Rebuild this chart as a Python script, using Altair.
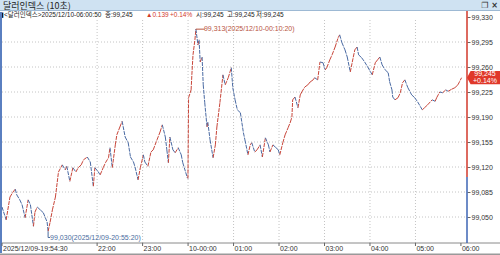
import altair as alt
import pandas as pd

# ---------------- data ----------------
clock = [
    "19:54:30", "20:00", "20:05", "20:09", "20:12", "20:14", "20:18", "20:21", "20:25", "20:29",
    "20:32", "20:36", "20:38", "20:41", "20:45", "20:49", "20:54", "20:55:20", "20:58", "21:01",
    "21:05", "21:09", "21:14", "21:18", "21:20", "21:24", "21:28", "21:32", "21:35", "21:39",
    "21:42", "21:47", "21:51", "21:55", "21:57", "22:01", "22:04", "22:08", "22:11", "22:15",
    "22:17", "22:20", "22:24", "22:26", "22:30", "22:33", "22:37", "22:41", "22:44", "22:48",
    "22:50", "22:54", "22:57", "23:01", "23:03", "23:07", "23:11", "23:14", "23:19", "23:23",
    "23:26", "23:30", "23:32", "23:34", "23:36", "23:40", "23:43", "23:47", "23:51", "23:53",
    "23:59", "23:59:50", "00:00:40", "00:04", "00:05", "00:06:30", "00:09", "00:10:20", "00:13", "00:14:30",
    "00:16", "00:18:30", "00:20", "00:22", "00:25", "00:26", "00:29", "00:33", "00:36", "00:38",
    "00:42", "00:46", "00:49", "00:53", "00:57", "00:59", "01:02", "01:05", "01:09", "01:13",
    "01:15", "01:19", "01:22", "01:24", "01:28", "01:31", "01:35", "01:38", "01:42", "01:46",
    "01:48", "01:52", "01:55", "01:59", "02:01", "02:05", "02:08", "02:12", "02:15", "02:17",
    "02:18", "02:21", "02:25", "02:28", "02:30", "02:34", "02:38", "02:41", "02:45", "02:47",
    "02:51", "02:54", "02:58", "03:01", "03:03", "03:07", "03:10", "03:14", "03:18", "03:20",
    "03:23", "03:27", "03:30", "03:34", "03:38", "03:40", "03:43", "03:45", "03:49", "03:53",
    "03:57", "04:03", "04:07", "04:10", "04:13", "04:16", "04:20", "04:24", "04:26", "04:29",
    "04:30", "04:33", "04:37", "04:40", "04:43", "04:46", "04:50", "04:55", "04:59", "05:03",
    "05:09", "05:12", "05:16", "05:22", "05:26", "05:28", "05:32", "05:36", "05:40", "05:43",
    "05:48", "05:52", "05:56", "06:00:50",
]
price = [
    99.064, 99.046, 99.078, 99.085, 99.089, 99.081, 99.074, 99.067, 99.049, 99.074,
    99.067, 99.037, 99.057, 99.064, 99.060, 99.056, 99.043, 99.030, 99.043, 99.060,
    99.078, 99.113, 99.123, 99.116, 99.121, 99.100, 99.119, 99.113, 99.119, 99.123,
    99.130, 99.134, 99.127, 99.093, 99.119, 99.114, 99.109, 99.119, 99.126, 99.133,
    99.147, 99.119, 99.151, 99.165, 99.176, 99.184, 99.162, 99.154, 99.134, 99.127,
    99.120, 99.102, 99.119, 99.137, 99.127, 99.121, 99.141, 99.144, 99.158, 99.169,
    99.179, 99.162, 99.144, 99.126, 99.162, 99.144, 99.140, 99.147, 99.137, 99.126,
    99.105, 99.104, 99.217, 99.228, 99.249, 99.277, 99.298, 99.313, 99.291, 99.298,
    99.267, 99.274, 99.235, 99.210, 99.176, 99.183, 99.158, 99.133, 99.151, 99.176,
    99.210, 99.249, 99.235, 99.245, 99.259, 99.231, 99.214, 99.200, 99.196, 99.168,
    99.158, 99.137, 99.151, 99.154, 99.141, 99.144, 99.151, 99.134, 99.161, 99.151,
    99.141, 99.151, 99.148, 99.144, 99.137, 99.154, 99.165, 99.175, 99.183, 99.190,
    99.214, 99.218, 99.203, 99.221, 99.225, 99.232, 99.235, 99.239, 99.242, 99.245,
    99.242, 99.267, 99.266, 99.256, 99.259, 99.270, 99.277, 99.288, 99.301, 99.305,
    99.294, 99.284, 99.274, 99.253, 99.274, 99.284, 99.288, 99.277, 99.273, 99.267,
    99.260, 99.249, 99.266, 99.270, 99.274, 99.263, 99.256, 99.252, 99.239, 99.228,
    99.218, 99.214, 99.217, 99.224, 99.238, 99.242, 99.231, 99.221, 99.217, 99.211,
    99.200, 99.203, 99.207, 99.214, 99.212, 99.217, 99.225, 99.224, 99.228, 99.226,
    99.229, 99.231, 99.235, 99.245,
]

prev_close = 99.106
last_price = 99.245
last_clock = "06:00:50"
high_clock, high_val = "00:10:20", 99.313
low_clock, low_val = "20:55:20", 99.030
high_label = "99,313(2025/12/10-00:10:20)"
low_label = "99,030(2025/12/09-20:55:20)"

y_ticks = [99.050, 99.085, 99.120, 99.155, 99.190, 99.225, 99.260, 99.295, 99.330]
y_grid = [99.050, 99.085, 99.120, 99.155, 99.190, 99.225, 99.260, 99.295]
x_tick_clock = ["19:54:30", "22:00", "23:00", "00:00", "01:00", "02:00", "03:00", "04:00", "05:00", "06:00"]
x_tick_labels = ["2025/12/09-19:54:30", "22:00", "23:00", "10-00:00", "01:00", "02:00",
                 "03:00", "04:00", "05:00", "06:00"]
grid_clock = ["22:00", "23:00", "00:00", "01:00", "02:00", "03:00", "04:00", "05:00"]

title_text = "달러인덱스 (10초)"
header_parts = [
    # (text, x in px from plot left, colour)
    ("<달러인덱스>2025/12/10-06:00:50", 2, "#222222"),
    ("종:99,245", 103, "#222222"),
    ("▲0.139", 144, "#d23a2a"),
    ("+0.14%", 168, "#d23a2a"),
    ("시:99,245", 194, "#222222"),
    ("고:99,245", 225, "#222222"),
    ("저:99,245", 254, "#222222"),
]
tag_lines = ["99,245", "+0.14%"]


def iso(c):
    if len(c) == 5:
        c += ":00"
    d = "2025-12-09" if int(c[:2]) >= 12 else "2025-12-10"
    return f"{d}T{c}"


FONT = "Liberation Sans, Noto Sans CJK KR"
RED = "#c8463a"
BLUE = "#4a6aa3"

W, H = 465, 226

xs = alt.Scale(domain=[iso("19:54:30"), iso("06:08:00")])
ys = alt.Scale(domain=[99.0136, 99.330], nice=False, zero=False)
Y_AXIS = alt.Axis(
    orient="right", values=y_ticks, grid=False, domain=False,
    labelExpr="replace(format(datum.value, '.3f'), '.', ',')",
    tickSize=3, tickColor="#666", labelPadding=1, labelFont=FONT,
    labelFontSize=7, labelColor="#333", labelOverlap=False, labelFlush=False, title=None)

# segments coloured by direction
seg = pd.DataFrame({
    "t": [iso(c) for c in clock[:-1]],
    "t2": [iso(c) for c in clock[1:]],
    "v": price[:-1],
    "v2": price[1:],
})
seg["dir"] = ["up" if b >= a else "down" for a, b in zip(price[:-1], price[1:])]

one = pd.DataFrame({"k": [0]})

# title bar
title_bg = alt.Chart(one).mark_rect(color="#cfe2f2").encode(
    x=alt.value(-2), x2=alt.value(498), y=alt.value(-17), y2=alt.value(-6.5))
title_line = alt.Chart(one).mark_rule(color="#9db9d4").encode(
    x=alt.value(-2), x2=alt.value(498), y=alt.value(-6.5))
title_txt = alt.Chart(one).mark_text(align="left", baseline="middle", font="Noto Sans CJK KR",
                                     fontSize=9, color="#222").encode(
    x=alt.value(1), y=alt.value(-11.5), text=alt.value(title_text))
icons = alt.Chart(one).mark_text(align="right", baseline="middle", font="DejaVu Sans",
                                 fontSize=8, fontWeight="bold", color="#333").encode(
    x=alt.value(496), y=alt.value(-11.5), text=alt.value("❐ ×"))

# header
hdr = pd.DataFrame(header_parts, columns=["txt", "px", "col"])
header = alt.Chart(hdr).mark_text(align="left", baseline="middle", font=FONT, fontSize=6.5).encode(
    x=alt.X("px:Q", scale=None), y=alt.value(-2), text="txt:N",
    color=alt.Color("col:N", scale=None))
header_mark = alt.Chart(one).mark_text(align="left", baseline="middle", font="DejaVu Sans",
                                       fontSize=7, color="#111").encode(
    x=alt.value(-2), y=alt.value(-2), text=alt.value("▮"))

# grids
hgrid = alt.Chart(pd.DataFrame({"v": y_grid})).mark_rule(
    color="#c4c4c4", strokeDash=[1, 2], strokeWidth=1).encode(
    y=alt.Y("v:Q", scale=ys, axis=Y_AXIS), x=alt.value(0), x2=alt.value(W))
vgrid = alt.Chart(pd.DataFrame({"t": [iso(c) for c in grid_clock]})).mark_rule(
    color="#c4c4c4", strokeDash=[1, 2], strokeWidth=1).encode(
    x=alt.X("t:T", scale=xs, axis=None), y=alt.value(3), y2=alt.value(H))

# price segments
line = alt.Chart(seg).mark_rule(strokeWidth=1, strokeDash=[4, 1]).encode(
    x=alt.X("t:T", scale=xs, axis=None), x2="t2:T",
    y=alt.Y("v:Q", scale=ys, axis=Y_AXIS),
    y2="v2:Q",
    color=alt.Color("dir:N", scale=alt.Scale(domain=["up", "down"], range=[RED, BLUE]),
                    legend=None))

# bottom axis
xt = pd.DataFrame({"t": [iso(c) for c in x_tick_clock], "lab": x_tick_labels})
xticks = alt.Chart(xt).mark_rule(color="#666").encode(
    x=alt.X("t:T", scale=xs, axis=None), y=alt.value(H), y2=alt.value(H + 3))
xlabels = alt.Chart(xt).mark_text(align="left", baseline="middle", font=FONT, fontSize=7,
                                  color="#333", dx=1).encode(
    x=alt.X("t:T", scale=xs, axis=None), y=alt.value(H + 6), text="lab:N")
bottom_line = alt.Chart(one).mark_rule(color="#8a8a8a").encode(
    x=alt.value(-2), x2=alt.value(498), y=alt.value(H))
frame_bottom = alt.Chart(one).mark_rule(color="#9a9a9a", strokeWidth=2).encode(
    x=alt.value(-2), x2=alt.value(498), y=alt.value(H + 11.5))
left_bar = alt.Chart(one).mark_rule(color="#5a7fc0", strokeWidth=2).encode(
    x=alt.value(-1), y=alt.value(-5), y2=alt.value(H + 10))

# right axis line (red above previous close, blue below)
pc = pd.DataFrame({"v": [prev_close]})
axis_red = alt.Chart(pc).mark_rule(color="#d2392b", strokeWidth=1.5).encode(
    x=alt.value(W), y=alt.Y("v:Q", scale=ys, axis=Y_AXIS), y2=alt.value(-6))
axis_blue = alt.Chart(pc).mark_rule(color="#3c64b4", strokeWidth=1.5).encode(
    x=alt.value(W), y=alt.Y("v:Q", scale=ys, axis=Y_AXIS), y2=alt.value(H))

# price tag
lastdf = pd.DataFrame({"t": [iso(last_clock)], "v": [last_price],
                       "l1": [tag_lines[0]], "l2": [tag_lines[1]]})
tag_path = "M -1.1 0 L -0.86 -0.44 L 1.1 -0.44 L 1.1 0.44 L -0.86 0.44 Z"
tag = alt.Chart(lastdf).mark_point(shape=tag_path, filled=True, fill="#e0382a", opacity=1,
                                   strokeWidth=0, size=900).encode(
    x=alt.value(481.5), y=alt.Y("v:Q", scale=ys, axis=Y_AXIS))
tag_t1 = alt.Chart(lastdf).mark_text(align="center", baseline="middle", font=FONT, fontSize=7,
                                     color="white", dy=-3.3).encode(
    x=alt.value(483), y=alt.Y("v:Q", scale=ys, axis=Y_AXIS), text="l1:N")
tag_t2 = alt.Chart(lastdf).mark_text(align="center", baseline="middle", font=FONT, fontSize=7,
                                     color="white", dy=3.5).encode(
    x=alt.value(483), y=alt.Y("v:Q", scale=ys, axis=Y_AXIS), text="l2:N")

# high / low annotations
hi = pd.DataFrame({"t": [iso(high_clock)], "v": [high_val], "lab": [high_label]})
lo = pd.DataFrame({"t": [iso(low_clock)], "v": [low_val], "lab": [low_label]})
HI_C = "#b8553f"
LO_C = "#4a6c9e"
hi_lead = alt.Chart(hi).mark_rule(color=HI_C).encode(
    x=alt.X("t:T", scale=xs, axis=None), x2=alt.value(203), y=alt.Y("v:Q", scale=ys, axis=Y_AXIS))
hi_txt = alt.Chart(hi).mark_text(align="left", baseline="middle", font=FONT, fontSize=7,
                                 color=HI_C, dx=8).encode(
    x=alt.X("t:T", scale=xs, axis=None), y=alt.Y("v:Q", scale=ys, axis=Y_AXIS), text="lab:N")
lo_lead_v = alt.Chart(lo).mark_rule(color=LO_C).encode(
    x=alt.X("t:T", scale=xs, axis=None), y=alt.Y("v:Q", scale=ys, axis=Y_AXIS), y2=alt.value(220.5))
lo_lead_h = alt.Chart(lo).mark_rule(color=LO_C).encode(
    x=alt.X("t:T", scale=xs, axis=None), x2=alt.value(48), y=alt.value(220.5))
lo_txt = alt.Chart(lo).mark_text(align="left", baseline="middle", font=FONT, fontSize=7,
                                 color=LO_C, dx=2).encode(
    x=alt.X("t:T", scale=xs, axis=None), y=alt.value(220.5), text="lab:N")

chart = alt.layer(
    title_bg, title_line, title_txt, icons, header_mark, header,
    hgrid, vgrid, bottom_line, frame_bottom, left_bar, xticks, xlabels,
    line, axis_red, axis_blue,
    hi_lead, hi_txt, lo_lead_v, lo_lead_h, lo_txt,
    tag, tag_t1, tag_t2,
).properties(
    width=W, height=H,
    padding={"left": 2, "top": 17, "right": 33, "bottom": 12},
    autosize=alt.AutoSizeParams(type="none"),
    background="white",
).configure_view(stroke=None)

chart.save("out.html", embed_options={"renderer": "svg", "actions": False})
